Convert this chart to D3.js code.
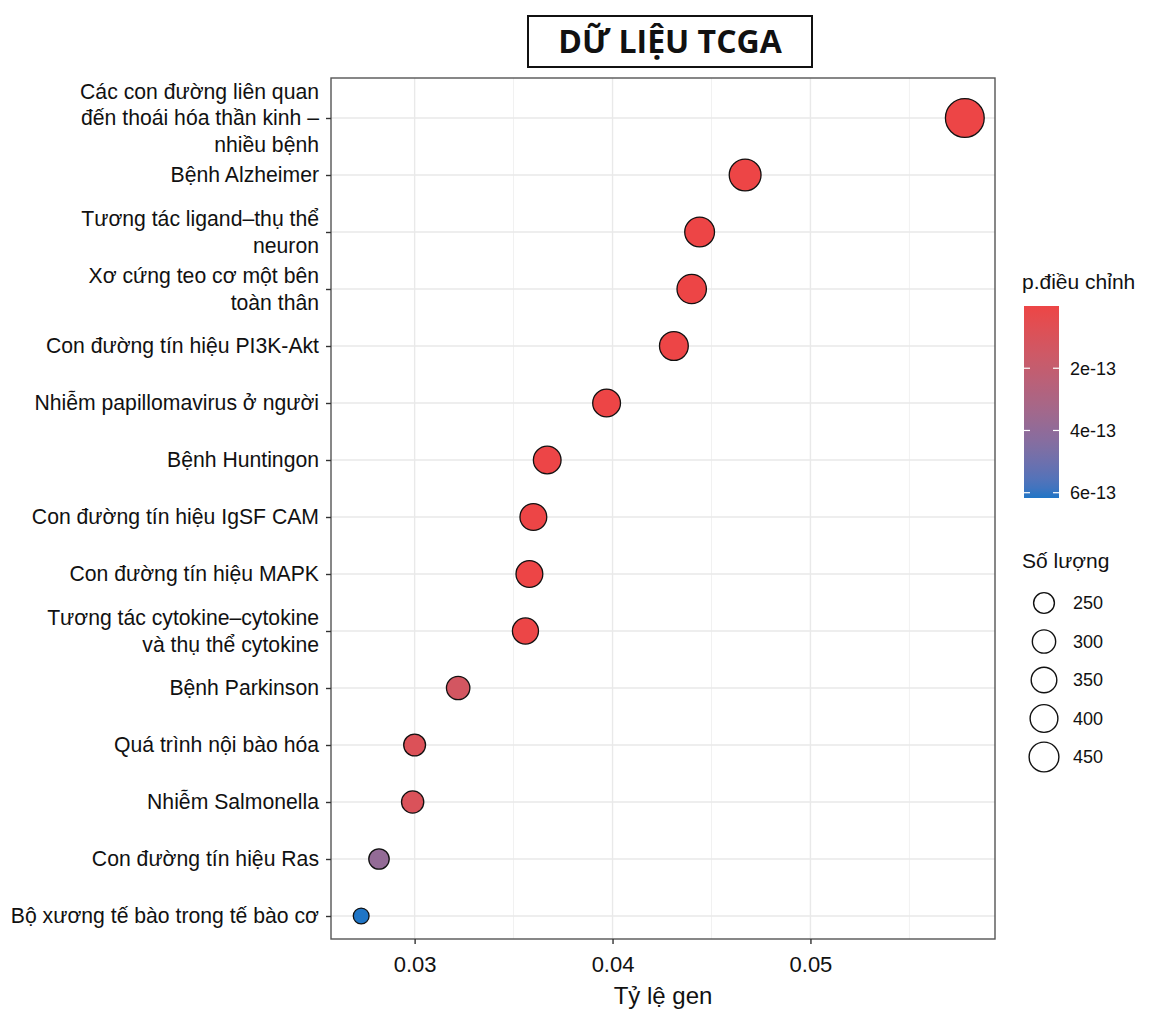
<!DOCTYPE html>
<html>
<head>
<meta charset="utf-8">
<script src="https://cdn.jsdelivr.net/npm/d3@7/dist/d3.min.js"></script>
<style>
  html, body { margin: 0; padding: 0; background: #fff; }
  svg { display: block; }
  text { font-family: "Liberation Sans", Arial, sans-serif; fill: #111; }
</style>
</head>
<body>
<svg id="chart" width="1152" height="1010"></svg>
<script>
// KEGG pathway enrichment, top to bottom
const categories = [
  ["Các con đường liên quan", "đến thoái hóa thần kinh –", "nhiều bệnh"],
  ["Bệnh Alzheimer"],
  ["Tương tác ligand–thụ thể", "neuron"],
  ["Xơ cứng teo cơ một bên", "toàn thân"],
  ["Con đường tín hiệu PI3K-Akt"],
  ["Nhiễm papillomavirus ở người"],
  ["Bệnh Huntingon"],
  ["Con đường tín hiệu IgSF CAM"],
  ["Con đường tín hiệu MAPK"],
  ["Tương tác cytokine–cytokine", "và thụ thể cytokine"],
  ["Bệnh Parkinson"],
  ["Quá trình nội bào hóa"],
  ["Nhiễm Salmonella"],
  ["Con đường tín hiệu Ras"],
  ["Bộ xương tế bào trong tế bào cơ"]
];
const geneRatio = [0.0578, 0.0467, 0.0444, 0.0440, 0.0431, 0.0397, 0.0367, 0.0360, 0.0358, 0.0356,
                   0.0322, 0.0300, 0.0299, 0.0282, 0.0273];
const counts = [709, 503, 450, 440, 425, 401, 398, 377, 377, 360, 302, 270, 278, 243, 164];
const pAdjust = [4.1e-27, 1.3e-24, 2.6e-18, 8.9e-17, 3.7e-20, 1.1e-17, 2.4e-15, 6.2e-16, 1.8e-15, 4.4e-15,
                 1.3e-13, 8.5e-14, 9.5e-14, 3.9e-13, 6.17e-13];

const xTicks = [0.03, 0.04, 0.05];
const xMinor = [0.035, 0.045, 0.055];
const colorTicks = [2e-13, 4e-13, 6e-13];
const colorTickLabels = ["2e-13", "4e-13", "6e-13"];
const sizeBreaks = [250, 300, 350, 400, 450];

const titleText = "DỮ LIỆU TCGA";
const xTitle = "Tỷ lệ gen";
const colorTitle = "p.điều chỉnh";
const sizeTitle = "Số lượng";

const svg = d3.select("#chart");
const panel = { left: 331, right: 995, top: 78, bottom: 939 };

// x scale with 5% expansion around the data
const [xmin, xmax] = d3.extent(geneRatio);
const pad = (xmax - xmin) * 0.05;
const x = d3.scaleLinear().domain([xmin - pad, xmax + pad]).range([panel.left, panel.right]);

const y = d3.scalePoint().domain(d3.range(categories.length)).range([118, 916]);

const color = d3.scaleLinear()
  .domain(d3.extent(pAdjust))
  .range(["#ED4546", "#1F75C6"])
  .interpolate(d3.interpolateLab);

const size = d3.scaleSqrt().domain(d3.extent(counts)).range([7.9, 19.4]);

// title box
svg.append("rect")
  .attr("x", 528).attr("y", 16).attr("width", 284).attr("height", 51)
  .attr("fill", "#fff").attr("stroke", "#111").attr("stroke-width", 2);
svg.append("text")
  .attr("x", 670).attr("y", 53)
  .attr("text-anchor", "middle")
  .style("font-family", "'Open Sans', 'Noto Sans', sans-serif")
  .style("font-weight", 700)
  .style("font-size", "32px")
  .style("fill", "#111")
  .text(titleText);

// panel background + grid
const g = svg.append("g");
g.append("rect")
  .attr("x", panel.left).attr("y", panel.top)
  .attr("width", panel.right - panel.left).attr("height", panel.bottom - panel.top)
  .attr("fill", "#fff");

g.selectAll("line.minor").data(xMinor).join("line")
  .attr("x1", d => x(d)).attr("x2", d => x(d))
  .attr("y1", panel.top).attr("y2", panel.bottom)
  .attr("stroke", "#F1F1F1").attr("stroke-width", 1);

g.selectAll("line.vmajor").data(xTicks).join("line")
  .attr("x1", d => x(d)).attr("x2", d => x(d))
  .attr("y1", panel.top).attr("y2", panel.bottom)
  .attr("stroke", "#E9E9E9").attr("stroke-width", 1.4);

g.selectAll("line.hmajor").data(d3.range(categories.length)).join("line")
  .attr("x1", panel.left).attr("x2", panel.right)
  .attr("y1", d => y(d)).attr("y2", d => y(d))
  .attr("stroke", "#E9E9E9").attr("stroke-width", 1.4);

// points
g.selectAll("circle.pt").data(d3.range(categories.length)).join("circle")
  .attr("cx", i => x(geneRatio[i]))
  .attr("cy", i => y(i))
  .attr("r", i => size(counts[i]))
  .attr("fill", i => color(pAdjust[i]))
  .attr("stroke", "#111")
  .attr("stroke-width", 1.3);

// panel border
g.append("rect")
  .attr("x", panel.left).attr("y", panel.top)
  .attr("width", panel.right - panel.left).attr("height", panel.bottom - panel.top)
  .attr("fill", "none").attr("stroke", "#555").attr("stroke-width", 1.4);

// x axis
const xAxis = svg.append("g").attr("transform", `translate(0,${panel.bottom})`)
  .call(d3.axisBottom(x).tickValues(xTicks).tickFormat(d3.format(".2f")).tickSize(5).tickPadding(12));
xAxis.select(".domain").remove();
xAxis.selectAll(".tick line").attr("stroke", "#333").attr("stroke-width", 1.4);
xAxis.selectAll(".tick text")
  .style("font-size", "22px").style("font-family", "'Liberation Sans', Arial, sans-serif")
  .attr("fill", "#111");

svg.append("text")
  .attr("x", (panel.left + panel.right) / 2).attr("y", 1004)
  .attr("text-anchor", "middle")
  .style("font-size", "24px")
  .text(xTitle);

// y axis with wrapped labels
const yAxis = svg.append("g").attr("transform", `translate(${panel.left},0)`)
  .call(d3.axisLeft(y).tickSize(5).tickFormat(""));
yAxis.select(".domain").remove();
yAxis.selectAll(".tick line").attr("stroke", "#333").attr("stroke-width", 1.4);

const lineH = 26.5;
const labels = svg.append("g");
categories.forEach((lines, i) => {
  const t = labels.append("text")
    .attr("text-anchor", "end")
    .attr("x", 319)
    .attr("y", y(i) - (lines.length - 1) * lineH / 2)
    .style("font-size", "21.2px");
  lines.forEach((ln, k) => {
    t.append("tspan").attr("x", 319).attr("dy", k === 0 ? "0.35em" : lineH).text(ln);
  });
});

// colour legend
const cbar = { x: 1024, y: 306, w: 35, h: 192 };
svg.append("text").attr("x", 1022).attr("y", 289).style("font-size", "21px").text(colorTitle);

const defs = svg.append("defs");
const grad = defs.append("linearGradient").attr("id", "pgrad")
  .attr("x1", 0).attr("y1", 0).attr("x2", 0).attr("y2", 1);
const [pmin, pmax] = d3.extent(pAdjust);
d3.range(0, 1.0001, 0.05).forEach(t => {
  grad.append("stop").attr("offset", t).attr("stop-color", color(pmin + t * (pmax - pmin)));
});
svg.append("rect")
  .attr("x", cbar.x).attr("y", cbar.y).attr("width", cbar.w).attr("height", cbar.h)
  .attr("fill", "url(#pgrad)");

const cy = d3.scaleLinear().domain([pmin, pmax]).range([cbar.y, cbar.y + cbar.h]);
colorTicks.forEach((v, i) => {
  const yy = cy(v);
  svg.append("line").attr("x1", cbar.x).attr("x2", cbar.x + 6).attr("y1", yy).attr("y2", yy)
    .attr("stroke", "#fff").attr("stroke-width", 1.2);
  svg.append("line").attr("x1", cbar.x + cbar.w - 6).attr("x2", cbar.x + cbar.w).attr("y1", yy).attr("y2", yy)
    .attr("stroke", "#fff").attr("stroke-width", 1.2);
  svg.append("text").attr("x", 1070).attr("y", yy).attr("dy", "0.35em")
    .style("font-size", "18px").text(colorTickLabels[i]);
});

// size legend
svg.append("text").attr("x", 1022).attr("y", 568).style("font-size", "21px").text(sizeTitle);
const sy = d3.scalePoint().domain(sizeBreaks).range([603, 757]);
sizeBreaks.forEach(b => {
  svg.append("circle").attr("cx", 1044).attr("cy", sy(b)).attr("r", size(b))
    .attr("fill", "none").attr("stroke", "#111").attr("stroke-width", 1.4);
  svg.append("text").attr("x", 1073).attr("y", sy(b)).attr("dy", "0.35em")
    .style("font-size", "18px").text(b);
});
</script>
</body>
</html>
